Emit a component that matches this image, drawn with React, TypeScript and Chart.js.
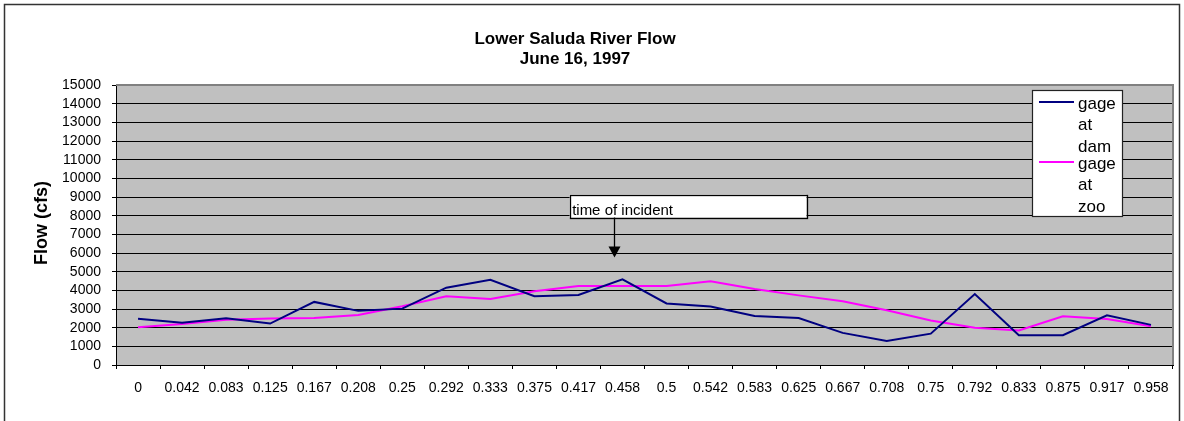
import React, { useEffect, useRef } from "react";
import { Chart, registerables } from "chart.js";

Chart.register(...registerables);

// ---- data ----
const timeLabels = [
  "0", "0.042", "0.083", "0.125", "0.167", "0.208", "0.25", "0.292",
  "0.333", "0.375", "0.417", "0.458", "0.5", "0.542", "0.583", "0.625",
  "0.667", "0.708", "0.75", "0.792", "0.833", "0.875", "0.917", "0.958",
];
const gageAtDam = [
  2480, 2260, 2500, 2220, 3380, 2900, 3020, 4140,
  4570, 3680, 3750, 4590, 3300, 3130, 2630, 2520,
  1720, 1290, 1680, 3800, 1600, 1600, 2660, 2150,
];
const gageAtZoo = [
  2020, 2200, 2430, 2490, 2520, 2680, 3150, 3680,
  3540, 3950, 4230, 4230, 4230, 4480, 4070, 3730,
  3410, 2930, 2380, 1990, 1845, 2610, 2470, 2080,
];
const seriesNames = [["gage", "at", "dam"], ["gage", "at", "zoo"]];
const seriesColors = ["#000080", "#FF00FF"];
const titleLines = ["Lower Saluda River Flow", "June 16, 1997"];
const yAxisTitle = "Flow (cfs)";
const annotationText = "time of incident";
const yMin = 0;
const yMax = 15000;
const yStep = 1000;

const FONT = "'Liberation Sans', Arial, sans-serif";

const decorPlugin = {
  id: "decor",
  beforeDraw(chart: any) {
    const { ctx, chartArea: a, width, height } = chart;
    ctx.save();
    ctx.fillStyle = "#ffffff";
    ctx.fillRect(0, 0, width, height);
    ctx.fillStyle = "#C0C0C0";
    ctx.fillRect(a.left, a.top, a.right - a.left, a.bottom - a.top);
    ctx.restore();
  },
  afterDraw(chart: any) {
    const { ctx, chartArea: a, scales } = chart;
    const xs = scales.x;
    const ys = scales.y;
    ctx.save();

    // outer chart border
    ctx.strokeStyle = "#333333";
    ctx.lineWidth = 1.5;
    ctx.strokeRect(4.5, 4.5, 1175, 430);

    // grey frame on top and right of plot area
    ctx.strokeStyle = "#808080";
    ctx.lineWidth = 2;
    ctx.beginPath();
    ctx.moveTo(a.left, a.top);
    ctx.lineTo(a.right, a.top);
    ctx.lineTo(a.right, a.bottom);
    ctx.stroke();

    // title
    ctx.fillStyle = "#000";
    ctx.font = `bold 17px ${FONT}`;
    ctx.textAlign = "center";
    ctx.textBaseline = "middle";
    ctx.fillText(titleLines[0], 575, 39);
    ctx.fillText(titleLines[1], 575, 59);

    // y axis title
    ctx.save();
    ctx.translate(47, 223);
    ctx.rotate(-Math.PI / 2);
    ctx.font = `bold 18px ${FONT}`;
    ctx.textAlign = "center";
    ctx.textBaseline = "alphabetic";
    ctx.fillText(yAxisTitle, 0, 0);
    ctx.restore();

    // annotation box + arrow (positioned in data units)
    const bx0 = xs.getPixelForValue(9.8);
    const bx1 = xs.getPixelForValue(15.18);
    const by0 = ys.getPixelForValue(9130);
    const by1 = ys.getPixelForValue(7900);
    ctx.fillStyle = "#ffffff";
    ctx.fillRect(bx0, by0, bx1 - bx0, by1 - by0);
    ctx.strokeStyle = "#000";
    ctx.lineWidth = 1.3;
    ctx.strokeRect(Math.round(bx0) + 0.5, Math.round(by0) + 0.5, Math.round(bx1 - bx0), Math.round(by1 - by0));
    ctx.fillStyle = "#000";
    ctx.font = `15px ${FONT}`;
    ctx.textAlign = "left";
    ctx.textBaseline = "alphabetic";
    ctx.fillText(annotationText, bx0 + 2.5, by1 - 2.5);
    const ax = Math.round(xs.getPixelForValue(10.81)) + 0.5;
    const tipY = ys.getPixelForValue(5760);
    ctx.lineWidth = 1.3;
    ctx.beginPath();
    ctx.moveTo(ax, by1);
    ctx.lineTo(ax, tipY - 10);
    ctx.stroke();
    ctx.beginPath();
    ctx.moveTo(ax - 6, tipY - 11);
    ctx.lineTo(ax + 6, tipY - 11);
    ctx.lineTo(ax, tipY);
    ctx.closePath();
    ctx.fill();

    // legend
    const lx = 1032, ly = 90, lw = 90, lh = 126;
    ctx.fillStyle = "#ffffff";
    ctx.fillRect(lx, ly, lw, lh);
    ctx.strokeStyle = "#222";
    ctx.lineWidth = 1.2;
    ctx.strokeRect(lx + 0.5, ly + 0.5, lw, lh);
    ctx.font = `17px ${FONT}`;
    ctx.textAlign = "left";
    ctx.textBaseline = "alphabetic";
    const itemTops = [108.5, 168.5];
    seriesNames.forEach((lines, i) => {
      const base = itemTops[i];
      ctx.strokeStyle = seriesColors[i];
      ctx.lineWidth = 2;
      ctx.beginPath();
      ctx.moveTo(1039, base - 6.5);
      ctx.lineTo(1074, base - 6.5);
      ctx.stroke();
      ctx.fillStyle = "#000";
      lines.forEach((t, j) => {
        ctx.fillText(t, 1078, base + j * 21.5);
      });
    });

    ctx.restore();
  },
};

export default function App() {
  const ref = useRef<HTMLCanvasElement>(null);
  useEffect(() => {
    document.body.style.margin = "0";
    const canvas = ref.current;
    if (!canvas) return;
    const chart = new Chart(canvas, {
      type: "line",
      data: {
        labels: timeLabels,
        datasets: [
          {
            label: seriesNames[0].join(" "),
            data: gageAtDam,
            borderColor: seriesColors[0],
            backgroundColor: seriesColors[0],
            borderWidth: 2,
            pointRadius: 0,
            tension: 0,
            fill: false,
          },
          {
            label: seriesNames[1].join(" "),
            data: gageAtZoo,
            borderColor: seriesColors[1],
            backgroundColor: seriesColors[1],
            borderWidth: 2,
            pointRadius: 0,
            tension: 0,
            fill: false,
          },
        ],
      },
      options: {
        responsive: false,
        animation: false,
        layout: { padding: { left: 0, right: 11, top: 85, bottom: 0 } },
        plugins: {
          legend: { display: false },
          title: { display: false },
          tooltip: { enabled: false },
        },
        scales: {
          x: {
            type: "category",
            offset: true,
            grid: {
              display: true,
              drawOnChartArea: false,
              drawTicks: true,
              tickLength: 4,
              offset: true,
              color: "#000",
            },
            border: { display: true, color: "#000", width: 1 },
            ticks: {
              autoSkip: false,
              maxRotation: 0,
              minRotation: 0,
              padding: 11,
              color: "#000",
              font: { family: FONT, size: 14 },
            },
            afterFit: (s: any) => {
              s.height = 56;
            },
          },
          y: {
            min: yMin,
            max: yMax,
            ticks: {
              stepSize: yStep,
              autoSkip: false,
              padding: 11,
              color: "#000",
              font: { family: FONT, size: 14 },
              callback: (v: any) => String(v),
            },
            grid: { color: "#000", tickLength: 4, drawTicks: true },
            border: { display: true, color: "#000", width: 1 },
            afterFit: (s: any) => {
              s.width = 116;
            },
          },
        },
      },
      plugins: [decorPlugin],
    });
    return () => chart.destroy();
  }, []);
  return (
    <div style={{ width: 1184, height: 421 }}>
      <canvas ref={ref} width={1184} height={421} />
    </div>
  );
}
